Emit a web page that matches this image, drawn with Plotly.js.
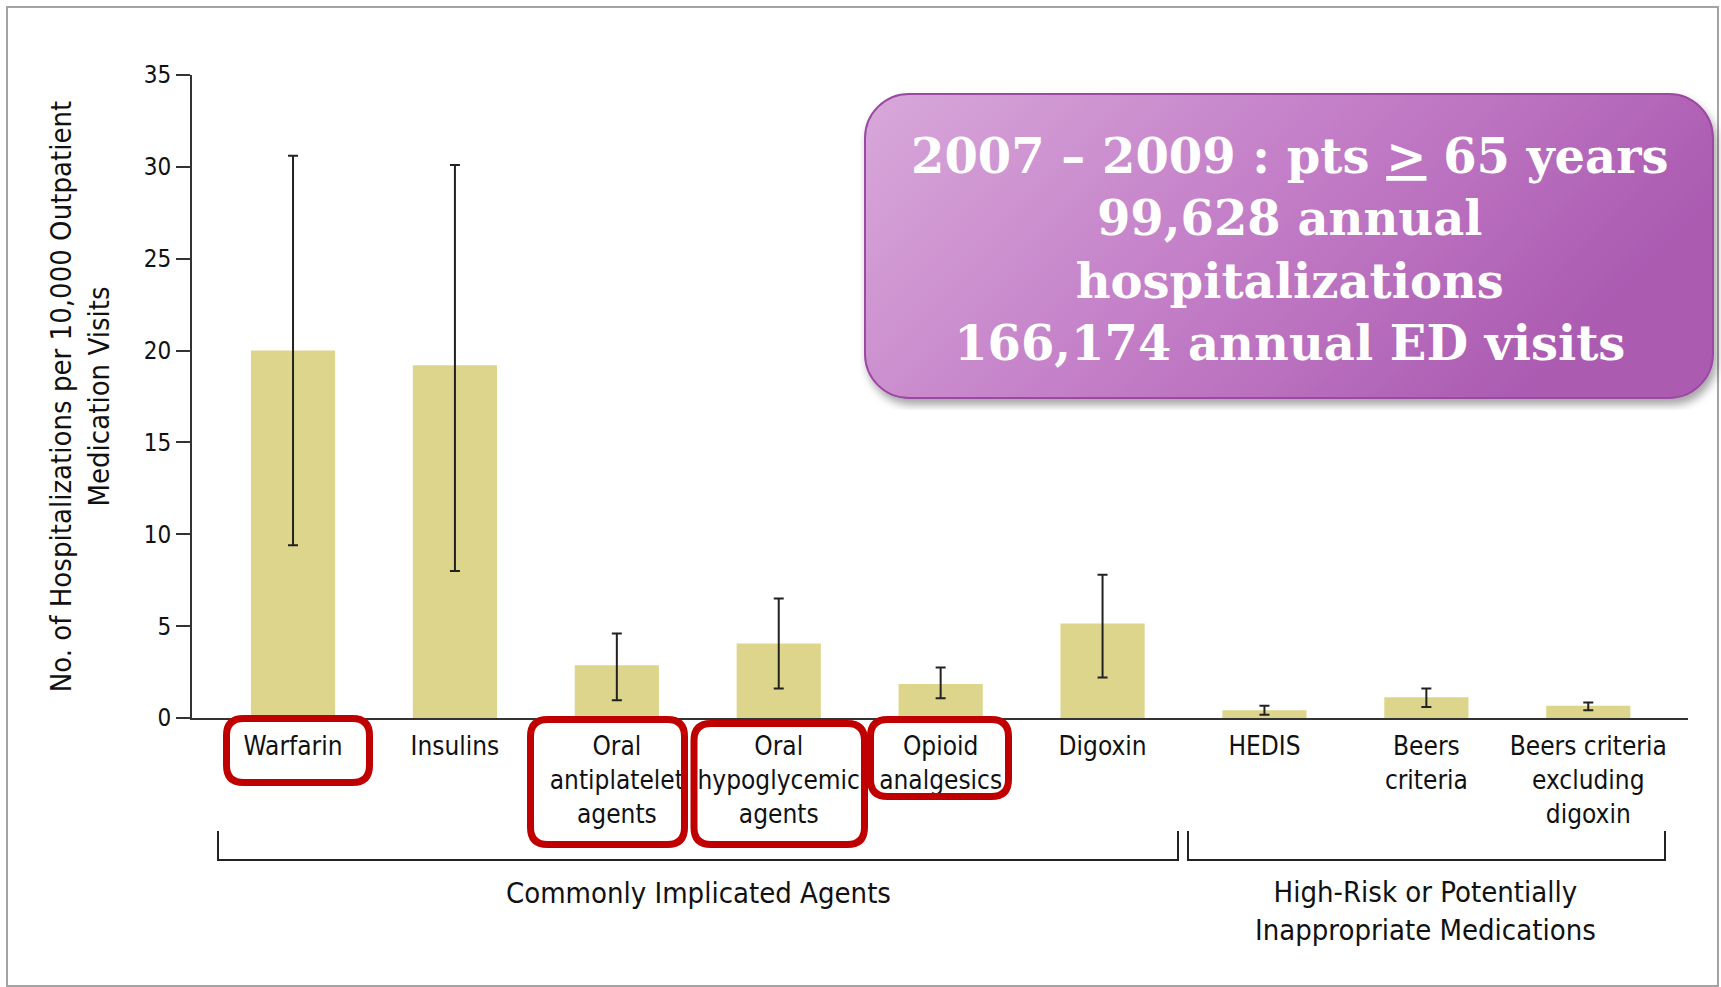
<!DOCTYPE html>
<html>
<head>
<meta charset="utf-8">
<script src="https://cdn.plot.ly/plotly-3.0.1.min.js"></script>
<style>html,body{margin:0;padding:0;background:#fff;}#chart{width:1721px;height:987px;}</style>
</head>
<body>
<div id="chart"></div>
<script>
// ---- data ----
const categories = ["Warfarin", "Insulins", "Oral<br>antiplatelet<br>agents", "Oral<br>hypoglycemic<br>agents",
  "Opioid<br>analgesics", "Digoxin", "HEDIS", "Beers<br>criteria", "Beers criteria<br>excluding<br>digoxin"];
const rates = [20.0, 19.2, 2.87, 4.06, 1.85, 5.14, 0.42, 1.13, 0.66];
const ciUpper = [30.6, 30.1, 4.6, 6.5, 2.75, 7.8, 0.66, 1.6, 0.84];
const ciLower = [9.4, 8.0, 0.96, 1.6, 1.08, 2.2, 0.18, 0.6, 0.42];
const yTicks = [0, 5, 10, 15, 20, 25, 30, 35];
const groupLabels = ["Commonly Implicated Agents", "High-Risk or Potentially<br>Inappropriate Medications"];
const boxLines = ["2007 – 2009 : pts <u>&gt;</u> 65 years", "99,628 annual", "hospitalizations", "166,174 annual ED visits"];

// ---- geometry helpers (pixel -> paper) ----
const W = 1721, H = 987, L = 192, R = 1688, T = 75, B = 718;
const px = x => (x - L) / (R - L);
const py = y => (B - y) / (B - T);
function rr(x0, y0, x1, y1, r) {
  const P = (x, y) => px(x).toFixed(5) + ',' + py(y).toFixed(5);
  return 'M' + P(x0 + r, y0) + ' L' + P(x1 - r, y0) + ' Q' + P(x1, y0) + ' ' + P(x1, y0 + r) +
    ' L' + P(x1, y1 - r) + ' Q' + P(x1, y1) + ' ' + P(x1 - r, y1) +
    ' L' + P(x0 + r, y1) + ' Q' + P(x0, y1) + ' ' + P(x0, y1 - r) +
    ' L' + P(x0, y0 + r) + ' Q' + P(x0, y0) + ' ' + P(x0 + r, y0) + ' Z';
}
function poly(pts) {
  return pts.map((p, i) => (i ? 'L' : 'M') + px(p[0]).toFixed(5) + ',' + py(p[1]).toFixed(5)).join(' ');
}

const FONT = '"DejaVu Sans Condensed", "DejaVu Sans", sans-serif';
const xIdx = categories.map((c, i) => i);

const trace = {
  type: 'bar',
  x: xIdx,
  y: rates,
  width: 0.52,
  marker: { color: '#ddd58b', line: { width: 0 } },
  error_y: {
    type: 'data', symmetric: false,
    array: rates.map((v, i) => ciUpper[i] - v),
    arrayminus: rates.map((v, i) => v - ciLower[i]),
    color: '#222', thickness: 2, width: 5
  },
  hoverinfo: 'skip'
};

const svgBox = "<svg xmlns='http://www.w3.org/2000/svg' width='861' height='322' viewBox='0 0 861 322'>" +
  "<defs><linearGradient id='g' x1='0' y1='0' x2='1' y2='0.35'>" +
  "<stop offset='0' stop-color='#d8a8da'/><stop offset='0.55' stop-color='#c27cc6'/><stop offset='1' stop-color='#ab5bb1'/></linearGradient>" +
  "<filter id='s' x='-5%' y='-5%' width='115%' height='125%'><feDropShadow dx='3' dy='6' stdDeviation='4' flood-color='#000' flood-opacity='0.35'/></filter></defs>" +
  "<rect x='5' y='6' width='848' height='304' rx='44' ry='44' fill='url(#g)' stroke='#9b4aa3' stroke-width='2' filter='url(#s)'/></svg>";

const redBoxes = [[226.5, 718.5, 369.5, 782.5], [530.5, 719.5, 684.5, 844.5], [694, 723.5, 864.5, 844.5], [870.5, 719.5, 1008.5, 796.5]];

const shapes = [
  // frame
  { type: 'rect', xref: 'paper', yref: 'paper', x0: px(7), x1: px(1718), y0: py(7), y1: py(986), line: { color: '#a3a3a3', width: 2 }, layer: 'below' },
  // brackets
  { type: 'path', xref: 'paper', yref: 'paper', path: poly([[218, 831], [218, 860], [1178, 860], [1178, 831]]), line: { color: '#222', width: 2 } },
  { type: 'path', xref: 'paper', yref: 'paper', path: poly([[1188, 831], [1188, 860], [1665, 860], [1665, 831]]), line: { color: '#222', width: 2 } }
].concat(redBoxes.map(b => ({
  type: 'path', xref: 'paper', yref: 'paper', path: rr(b[0], b[1], b[2], b[3], 17),
  line: { color: '#c00000', width: 7 }, layer: 'above'
})));

const annotations = [
  { xref: 'paper', yref: 'paper', x: px(698), y: py(893), text: groupLabels[0], showarrow: false,
    xanchor: 'center', yanchor: 'middle', font: { family: FONT, size: 29, color: '#111' } },
  { xref: 'paper', yref: 'paper', x: px(1425), y: py(911), text: groupLabels[1], showarrow: false,
    xanchor: 'center', yanchor: 'middle', font: { family: FONT, size: 29, color: '#111' } },
  { xref: 'paper', yref: 'paper', x: px(1290), y: py(249), text: boxLines.join('<br>'), showarrow: false,
    xanchor: 'center', yanchor: 'middle', align: 'center',
    font: { family: '"DejaVu Serif", serif', size: 48, color: '#ffffff', weight: 'bold' } }
];

const layout = {
  width: W, height: H,
  margin: { l: L, r: W - R, t: T, b: H - B, pad: 0 },
  paper_bgcolor: '#ffffff', plot_bgcolor: 'rgba(0,0,0,0)',
  showlegend: false,
  bargap: 0.48,
  font: { family: FONT, color: '#111' },
  xaxis: {
    range: [-0.624, 8.616], tickvals: xIdx, ticktext: categories,
    showline: true, linecolor: '#333', linewidth: 2, ticks: '', showgrid: false, zeroline: false,
    tickfont: { family: FONT, size: 26, color: '#111' }, ticklabelstandoff: 4, fixedrange: true
  },
  yaxis: {
    range: [0, 35], tickvals: yTicks, ticktext: yTicks.map(String),
    showline: true, linecolor: '#333', linewidth: 2, ticks: 'outside', ticklen: 14, tickwidth: 2, tickcolor: '#333',
    showgrid: false, zeroline: false, tickfont: { family: FONT, size: 24, color: '#111' },
    title: { text: 'No. of Hospitalizations per 10,000 Outpatient<br>Medication Visits', standoff: 26,
      font: { family: FONT, size: 29, color: '#111' } }, fixedrange: true
  },
  shapes: shapes,
  annotations: annotations,
  images: [{
    source: 'data:image/svg+xml;charset=utf-8,' + encodeURIComponent(svgBox),
    xref: 'paper', yref: 'paper', x: px(860), y: py(88), sizex: 861 / (R - L), sizey: 322 / (B - T),
    xanchor: 'left', yanchor: 'top', sizing: 'stretch', layer: 'above'
  }]
};

Plotly.newPlot('chart', [trace], layout, { displayModeBar: false, staticPlot: true });
</script>
</body>
</html>
